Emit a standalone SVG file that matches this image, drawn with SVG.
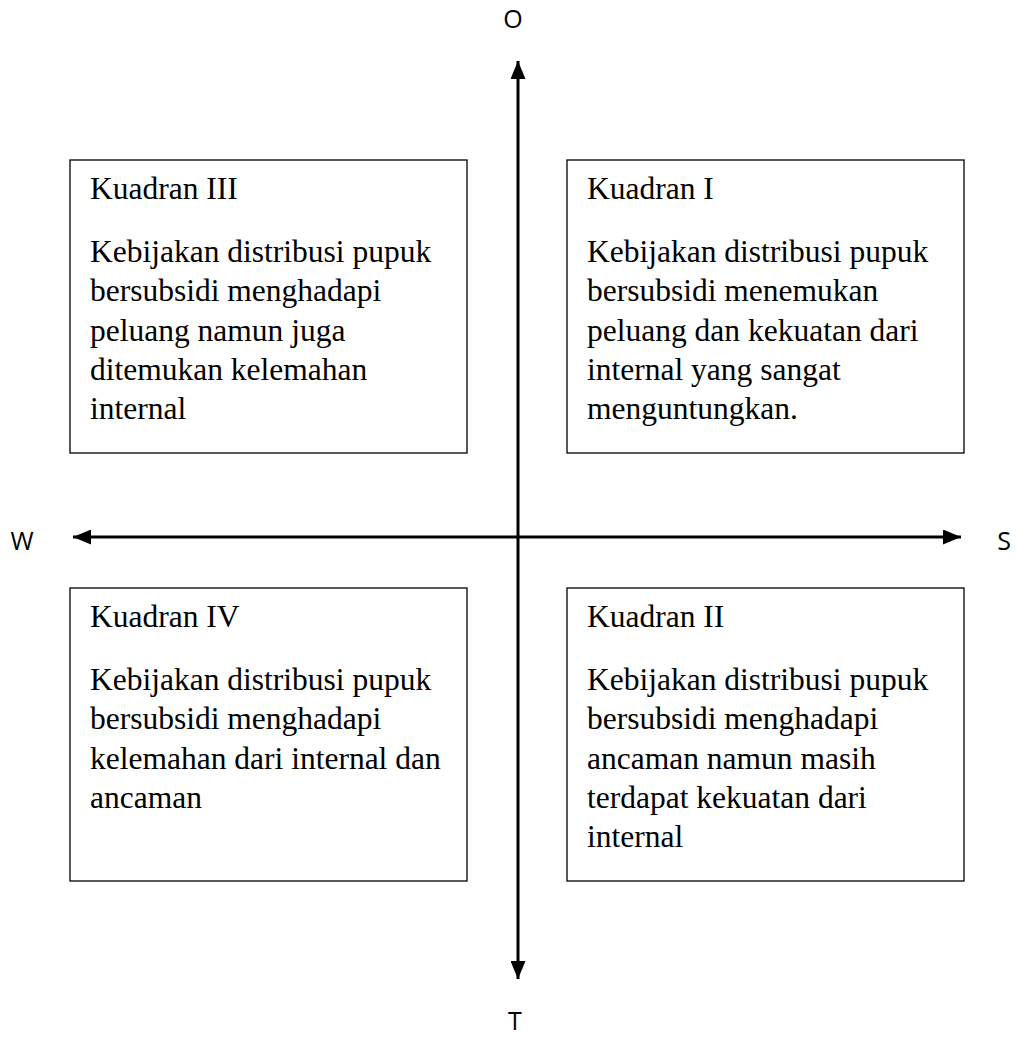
<svg xmlns="http://www.w3.org/2000/svg" width="1016" height="1038" viewBox="0 0 1016 1038">
<style>
.box{fill:#fff;stroke:#000;stroke-width:1.3}
.t{font-family:"Liberation Serif","Times New Roman",serif;font-size:31.5px;fill:#000}
.ax{font-family:"Open Sans","Liberation Sans",sans-serif;font-size:25px;fill:#000}
.axis{stroke:#000;stroke-width:3;fill:none}
</style>
<defs>
<marker id="ah" viewBox="0 0 12 10" refX="12" refY="5" markerWidth="6" markerHeight="5" markerUnits="strokeWidth" orient="auto-start-reverse">
<path d="M0,0 L12,5 L0,10 z" fill="#000"/>
</marker>
</defs>
<g id="q3">
<rect class="box" x="70" y="160" width="397" height="293"/>
<text class="t" x="90" y="199">Kuadran III</text>
<text class="t" x="90" y="262">Kebijakan distribusi pupuk</text>
<text class="t" x="90" y="301">bersubsidi menghadapi</text>
<text class="t" x="90" y="340.5">peluang namun juga</text>
<text class="t" x="90" y="380">ditemukan kelemahan</text>
<text class="t" x="90" y="419">internal</text>
</g>
<g id="q1">
<rect class="box" x="567" y="160" width="397" height="293"/>
<text class="t" x="587" y="199">Kuadran I</text>
<text class="t" x="587" y="262">Kebijakan distribusi pupuk</text>
<text class="t" x="587" y="301">bersubsidi menemukan</text>
<text class="t" x="587" y="340.5">peluang dan kekuatan dari</text>
<text class="t" x="587" y="380">internal yang sangat</text>
<text class="t" x="587" y="419">menguntungkan.</text>
</g>
<g id="q4">
<rect class="box" x="70" y="588" width="397" height="293"/>
<text class="t" x="90" y="627">Kuadran IV</text>
<text class="t" x="90" y="690">Kebijakan distribusi pupuk</text>
<text class="t" x="90" y="729">bersubsidi menghadapi</text>
<text class="t" x="90" y="768.5">kelemahan dari internal dan</text>
<text class="t" x="90" y="808">ancaman</text>
</g>
<g id="q2">
<rect class="box" x="567" y="588" width="397" height="293"/>
<text class="t" x="587" y="627">Kuadran II</text>
<text class="t" x="587" y="690">Kebijakan distribusi pupuk</text>
<text class="t" x="587" y="729">bersubsidi menghadapi</text>
<text class="t" x="587" y="768.5">ancaman namun masih</text>
<text class="t" x="587" y="808">terdapat kekuatan dari</text>
<text class="t" x="587" y="847">internal</text>
</g>
<g id="connectors">
<line class="axis" x1="518" y1="979" x2="518" y2="61" marker-start="url(#ah)" marker-end="url(#ah)"/>
<line class="axis" x1="73" y1="537" x2="961" y2="537" marker-start="url(#ah)" marker-end="url(#ah)"/>
</g>
<g id="labels">
<text class="ax" x="513" y="28" text-anchor="middle">O</text>
<text class="ax" x="515" y="1030" text-anchor="middle">T</text>
<text class="ax" x="22" y="550" text-anchor="middle">W</text>
<text class="ax" x="1004" y="550" text-anchor="middle">S</text>
</g>
</svg>
